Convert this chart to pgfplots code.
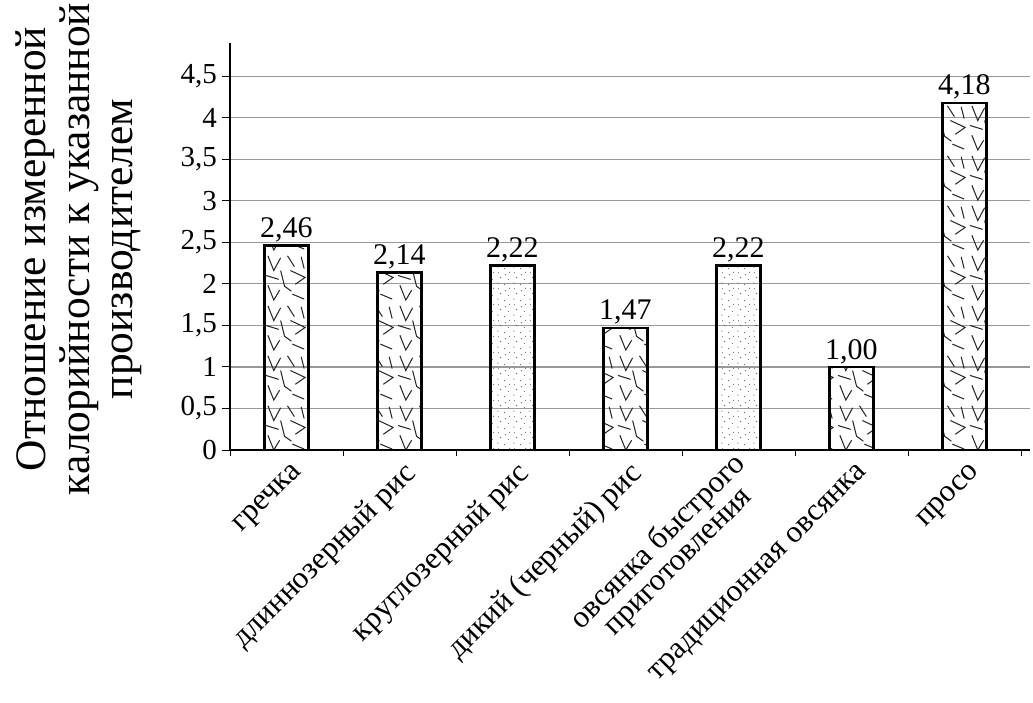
\documentclass[border=0pt]{standalone}
\usepackage{fontspec}
\setmainfont{Liberation Serif}
\usepackage{pgfplots}
\pgfplotsset{compat=1.18}
\usetikzlibrary{patterns}

\pgfdeclarepatternformonly{confetti}{\pgfqpoint{0pt}{0pt}}{\pgfqpoint{44pt}{50pt}}{\pgfqpoint{44pt}{50pt}}{%
  \pgfsetlinewidth{1.05pt}%
  \pgfpathmoveto{\pgfqpoint{4pt}{47pt}}\pgfpathlineto{\pgfqpoint{10pt}{32pt}}\pgfpathlineto{\pgfqpoint{17pt}{45pt}}%
  \pgfpathmoveto{\pgfqpoint{24pt}{47pt}}\pgfpathlineto{\pgfqpoint{31pt}{36pt}}%
  \pgfpathmoveto{\pgfqpoint{27pt}{32pt}}\pgfpathlineto{\pgfqpoint{42pt}{25pt}}\pgfpathlineto{\pgfqpoint{32pt}{18pt}}%
  \pgfpathmoveto{\pgfqpoint{2pt}{27pt}}\pgfpathlineto{\pgfqpoint{15pt}{23pt}}%
  \pgfpathmoveto{\pgfqpoint{17pt}{32pt}}\pgfpathlineto{\pgfqpoint{21pt}{16pt}}\pgfpathlineto{\pgfqpoint{28pt}{11pt}}%
  \pgfpathmoveto{\pgfqpoint{38pt}{46pt}}\pgfpathlineto{\pgfqpoint{41pt}{34pt}}%
  \pgfpathmoveto{\pgfqpoint{4pt}{17pt}}\pgfpathlineto{\pgfqpoint{10pt}{2pt}}\pgfpathlineto{\pgfqpoint{16pt}{12pt}}%
  \pgfpathmoveto{\pgfqpoint{29pt}{8pt}}\pgfpathlineto{\pgfqpoint{41pt}{3pt}}%
  \pgfusepath{stroke}%
}

\pgfdeclarepatternformonly{sparsedots}{\pgfqpoint{0pt}{0pt}}{\pgfqpoint{16pt}{16pt}}{\pgfqpoint{16pt}{16pt}}{%
  \pgfpathcircle{\pgfqpoint{2pt}{3pt}}{0.6pt}%
  \pgfpathcircle{\pgfqpoint{9pt}{1.5pt}}{0.6pt}%
  \pgfpathcircle{\pgfqpoint{13pt}{7pt}}{0.6pt}%
  \pgfpathcircle{\pgfqpoint{5pt}{9pt}}{0.6pt}%
  \pgfpathcircle{\pgfqpoint{10pt}{12pt}}{0.6pt}%
  \pgfpathcircle{\pgfqpoint{2.5pt}{14pt}}{0.6pt}%
  \pgfpathcircle{\pgfqpoint{14.5pt}{14.5pt}}{0.6pt}%
  \pgfusepath{fill}%
}

\pgfplotstableread{
x y
0 2.46
1 2.14
3 1.47
5 1.00
6 4.18
}\confdata
\pgfplotstableread{
x y
2 2.22
4 2.22
}\dotdata

\begin{document}
\begin{tikzpicture}
\begin{axis}[
  scale only axis,
  width=800pt, height=407pt,
  xmin=-0.5, xmax=6.58,
  ymin=0, ymax=4.9,
  axis x line=bottom, axis y line=left,
  axis line style={-, line width=2.6pt},
  ytick={0,0.5,...,4.5},
  ymajorgrids,
  grid style={gray!80, line width=1.2pt},
  tick align=outside,
  major tick length=8pt,
  minor tick length=6pt,
  tick style={black, line width=0.9pt},
  xtick={0,...,6},
  major x tick style={draw=none},
  minor xtick={-0.5,0.5,...,6.5},
  xticklabels={гречка, длиннозерный рис, круглозерный рис, дикий (черный) рис, {овсянка быстрого\\приготовления}, традиционная овсянка, просо},
  x tick label style={rotate=45, anchor=east, align=center, font=\fontsize{31}{28}\selectfont, inner sep=0pt, xshift=1pt, yshift=-17pt},
  y tick label style={font=\fontsize{29}{30}\selectfont, inner sep=5pt},
  /pgf/number format/assume math mode=true,
  /pgf/number format/use comma,
  ylabel={Отношение измеренной\\калорийности к указанной\\производителем},
  ylabel style={align=center, font=\fontsize{43.5}{43.5}\selectfont, inner sep=0pt, at={(axis description cs:-0.11,0.494)}, anchor=south},
  ybar, bar width=44pt, bar shift=0pt,
  nodes near coords,
  nodes near coords style={font=\fontsize{30}{30}\selectfont, inner sep=2pt, /pgf/number format/fixed, /pgf/number format/fixed zerofill, /pgf/number format/precision=2, /pgf/number format/use comma, /pgf/number format/assume math mode=true},
  clip=false,
]
\addplot[draw=black, line width=2.6pt, pattern=confetti, pattern color=black!85] table[x=x,y=y]{\confdata};
\addplot[draw=black, line width=2.6pt, pattern=sparsedots, pattern color=black!70] table[x=x,y=y]{\dotdata};
\coordinate (bl) at (rel axis cs:0,0);
\coordinate (tr) at (rel axis cs:1,1);
\end{axis}
\pgfresetboundingbox
\path ([xshift=-230pt,yshift=-252pt]bl) rectangle ([xshift=3pt,yshift=43pt]tr);
\end{tikzpicture}
\end{document}
